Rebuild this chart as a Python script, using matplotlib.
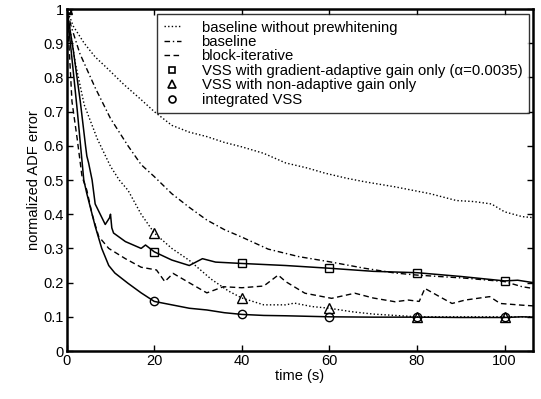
import matplotlib
matplotlib.use("Agg")
import matplotlib.pyplot as plt
from matplotlib.lines import Line2D

plt.rcParams['font.family'] = ['Liberation Sans', 'DejaVu Sans']

# baseline without prewhitening (dotted)
x_bwp = [0, 1.5, 4, 6.5, 9, 13, 17, 20, 24, 28, 32, 36, 40, 45, 50, 55, 59, 64, 68, 75, 83, 89, 93, 97, 100, 104, 106.5]
y_bwp = [1.0, 0.95, 0.9, 0.86, 0.83, 0.78, 0.735, 0.70, 0.66, 0.64, 0.627, 0.61, 0.597, 0.578, 0.55, 0.535, 0.52, 0.505, 0.495, 0.48, 0.46, 0.44, 0.437, 0.43, 0.407, 0.393, 0.39]

# baseline (dash-dot)
x_base = [0, 1, 3, 6.5, 10, 14, 17, 20, 24, 28, 32, 36, 40, 46, 53, 60, 68, 75, 80, 91, 100, 104, 106.5]
y_base = [1.0, 0.95, 0.87, 0.77, 0.68, 0.60, 0.545, 0.51, 0.46, 0.42, 0.383, 0.355, 0.333, 0.298, 0.276, 0.261, 0.242, 0.228, 0.222, 0.213, 0.203, 0.188, 0.183]

# block-iterative (dashed)
x_blk = [0, 0.5, 1.2, 2.4, 3.5, 4.6, 5.8, 7.3, 9.6, 13.4, 17, 20.5, 22.4, 24.3, 28.2, 32, 35.8, 40, 45, 48.3, 50, 54.4, 60.5, 65.8, 70, 75, 78, 80.5, 81.8, 85, 88, 91, 96.6, 99, 104, 106.5]
y_blk = [1.0, 0.9, 0.73, 0.62, 0.51, 0.47, 0.40, 0.335, 0.30, 0.27, 0.245, 0.237, 0.203, 0.227, 0.198, 0.17, 0.188, 0.185, 0.19, 0.222, 0.203, 0.169, 0.154, 0.169, 0.155, 0.144, 0.149, 0.145, 0.183, 0.16, 0.139, 0.149, 0.159, 0.139, 0.134, 0.132]

# VSS with gradient-adaptive gain only (solid, squares)
x_sq = [0, 1.5, 3.1, 4.3, 4.6, 5.0, 5.8, 6.5, 8.8, 9.8, 10, 10.3, 10.7, 13.4, 17, 18, 20, 24, 28, 31, 34, 40, 50, 60, 70, 80, 90, 100, 103, 106.5]
y_sq = [1.0, 0.88, 0.73, 0.60, 0.57, 0.55, 0.50, 0.43, 0.37, 0.39, 0.40, 0.36, 0.345, 0.32, 0.30, 0.31, 0.29, 0.266, 0.25, 0.27, 0.26, 0.256, 0.25, 0.242, 0.233, 0.229, 0.218, 0.205, 0.207, 0.20]

# VSS with non-adaptive gain only (dotted, triangles)
x_tri = [0, 1, 2, 4, 7, 10, 12, 14, 17, 20, 24, 28, 33, 37, 40, 45, 50, 52, 56, 60, 65, 70, 75, 80, 90, 100, 106.5]
y_tri = [1.0, 0.92, 0.84, 0.72, 0.62, 0.54, 0.50, 0.47, 0.40, 0.345, 0.30, 0.265, 0.21, 0.175, 0.155, 0.135, 0.135, 0.14, 0.13, 0.125, 0.115, 0.108, 0.104, 0.10, 0.10, 0.10, 0.10]

# integrated VSS (solid, circles)
x_int = [0, 1, 2.4, 3.9, 4.6, 6.5, 8, 9.6, 11, 14, 17, 20, 24, 28, 32, 36, 40, 45, 50, 60, 70, 80, 90, 100, 104, 106.5]
y_int = [1.0, 0.88, 0.705, 0.50, 0.46, 0.365, 0.30, 0.25, 0.228, 0.198, 0.17, 0.145, 0.135, 0.125, 0.12, 0.112, 0.107, 0.104, 0.103, 0.10, 0.099, 0.099, 0.098, 0.098, 0.10, 0.099]

marker_x = [0, 20, 40, 60, 80, 100]
x_ticks = [0, 20, 40, 60, 80, 100]
y_ticks = [0, 0.1, 0.2, 0.3, 0.4, 0.5, 0.6, 0.7, 0.8, 0.9, 1.0]
y_ticklabels = ['0', '0.1', '0.2', '0.3', '0.4', '0.5', '0.6', '0.7', '0.8', '0.9', '1']

labels = ['baseline without prewhitening', 'baseline', 'block-iterative',
          'VSS with gradient-adaptive gain only (\u03b1=0.0035)',
          'VSS with non-adaptive gain only', 'integrated VSS']

fig = plt.figure(figsize=(5.41, 3.99), dpi=100)
ax = fig.add_axes([0.1233, 0.1203, 0.862, 0.857])

dot = (0, (1, 1.6))
dashdot = (0, (4, 2, 1, 2))
dash = (0, (4, 2.5))

ax.plot(x_bwp, y_bwp, color='k', lw=1.0, linestyle=dot)
ax.plot(x_base, y_base, color='k', lw=1.0, linestyle=dashdot)
ax.plot(x_blk, y_blk, color='k', lw=1.0, linestyle=dash)

def idx(xs):
    return [xs.index(v) for v in marker_x]

ms = 6
ax.plot(x_sq, y_sq, color='k', lw=1.1, linestyle='-', marker='s', markevery=idx(x_sq),
        markersize=ms, markerfacecolor='none', markeredgewidth=1.0)
ax.plot(x_tri, y_tri, color='k', lw=1.0, linestyle=dot, marker='^', markevery=idx(x_tri),
        markersize=ms + 0.5, markerfacecolor='none', markeredgewidth=1.0)
ax.plot(x_int, y_int, color='k', lw=1.1, linestyle='-', marker='o', markevery=idx(x_int),
        markersize=ms, markerfacecolor='none', markeredgewidth=1.0)

ax.set_xlim(0, 106.5)
ax.set_ylim(0, 1)
ax.set_xticks(x_ticks)
ax.set_yticks(y_ticks)
ax.set_yticklabels(y_ticklabels)
ax.tick_params(direction='in', top=True, right=True, length=4, width=1.0,
               labelsize=10.5, pad=2)
for s in ax.spines.values():
    s.set_linewidth(1.8)

ax.set_xlabel('time (s)', fontsize=10.5, labelpad=1)
ax.set_ylabel('normalized ADF error', fontsize=10.5, labelpad=2)

handles = [
    Line2D([], [], color='k', lw=1.0, linestyle=dot),
    Line2D([], [], color='k', lw=1.0, linestyle=dashdot),
    Line2D([], [], color='k', lw=1.0, linestyle=dash),
    Line2D([], [], color='k', linestyle='none', marker='s', markersize=5, markerfacecolor='none', markeredgewidth=1.2),
    Line2D([], [], color='k', linestyle='none', marker='^', markersize=5.5, markerfacecolor='none', markeredgewidth=1.2),
    Line2D([], [], color='k', linestyle='none', marker='o', markersize=5, markerfacecolor='none', markeredgewidth=1.2),
]
leg = ax.legend(handles, labels, loc='upper right', bbox_to_anchor=(0.991, 0.986),
                fontsize=10.7, frameon=True, fancybox=False, edgecolor='k',
                handlelength=1.15, handletextpad=1.4, labelspacing=0.03,
                borderpad=0.45, borderaxespad=0)
leg.get_frame().set_linewidth(1.0)

fig.savefig('out.png', dpi=100)
